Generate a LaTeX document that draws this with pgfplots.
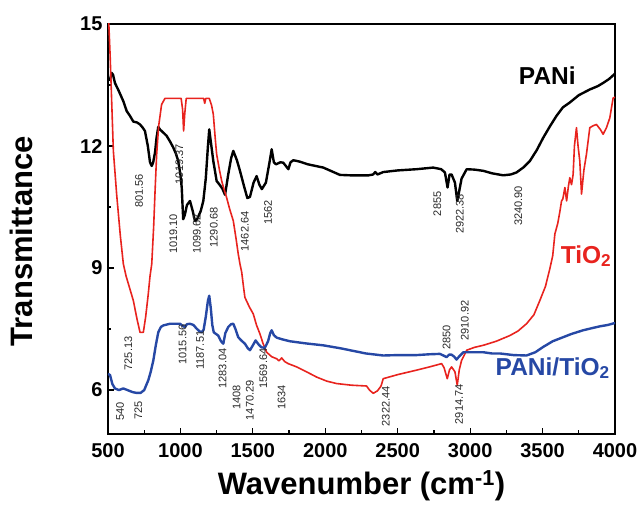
\documentclass[border=0pt]{standalone}
\usepackage{pgfplots}
\pgfplotsset{compat=1.18}
\usepackage{fontspec}
\setmainfont{Liberation Sans}
\definecolor{redc}{RGB}{232,35,30}
\definecolor{bluec}{RGB}{38,72,165}
\definecolor{annc}{RGB}{40,40,40}
\newcommand{\ann}[3]{\node[rotate=90,font=\fontsize{11}{11}\selectfont,text=annc,inner sep=0pt] at (axis cs:#1,#2) {#3};}
\begin{document}
\begin{tikzpicture}
\useasboundingbox (-108pt,-74pt) rectangle (532pt,434pt);
\begin{axis}[
  at={(0,0)}, anchor=south west,
  scale only axis, width=507pt, height=410pt,
  xmin=500, xmax=4000, ymin=4.92, ymax=15,
  xtick={500,1000,...,4000}, ytick={6,9,12,15},
  minor x tick num=1, minor y tick num=1,
  tick align=inside, tick pos=left,
  major tick length=6pt, minor tick length=3.5pt,
  every tick/.style={black, line width=1.2pt},
  axis line style={line width=1.6pt},
  /pgf/number format/assume math mode=true,
  /pgf/number format/1000 sep={},
  ticklabel style={font=\bfseries\fontsize{20}{20}\selectfont},
  xticklabel style={yshift=-6pt},
  yticklabel style={xshift=-2pt},
  xlabel={Wavenumber (cm\textsuperscript{-1})},
  ylabel={Transmittance},
  label style={font=\bfseries\fontsize{31}{31}\selectfont},
  xlabel style={at={(axis description cs:0.5,-0.127)}, anchor=center},
  ylabel style={at={(axis description cs:-0.17,0.47)}, anchor=center},
]
\addplot[black, line width=2.4pt, line join=round] coordinates {
(512,13.6)(525,13.8)(535,13.75)(548,13.55)(575,13.35)(606,13.1)(629,12.86)(650,12.75)(675,12.6)(700,12.58)(721,12.53)(740,12.45)(755,12.37)(775,12.0)(790,11.6)(802,11.51)(812,11.6)(825,11.85)(835,12.2)(847,12.47)(860,12.4)(870,12.37)(905,12.25)(930,12.1)(951,11.96)(970,11.8)(985,11.63)(1000,11.3)(1009,10.98)(1019,10.2)(1030,10.3)(1045,10.55)(1066,10.65)(1085,10.4)(1100,10.16)(1115,10.2)(1140,10.4)(1158,10.65)(1175,11.2)(1190,12.0)(1199,12.41)(1210,12.1)(1227,11.63)(1250,11.14)(1270,11.05)(1290,10.95)(1308,10.8)(1330,11.3)(1350,11.7)(1365,11.88)(1390,11.65)(1411,11.39)(1440,11.0)(1462,10.72)(1480,10.75)(1505,11.1)(1526,11.26)(1545,11.05)(1562,10.94)(1590,11.1)(1615,11.6)(1630,11.92)(1645,11.6)(1660,11.55)(1690,11.6)(1710,11.59)(1730,11.5)(1745,11.43)(1760,11.6)(1779,11.65)(1820,11.62)(1880,11.55)(1986,11.47)(2050,11.37)(2101,11.29)(2170,11.28)(2300,11.28)(2330,11.3)(2345,11.36)(2360,11.3)(2400,11.36)(2500,11.4)(2630,11.43)(2745,11.47)(2800,11.43)(2826,11.35)(2844,10.98)(2858,11.3)(2872,11.3)(2895,11.1)(2911,10.65)(2925,10.9)(2941,11.2)(2976,11.43)(3030,11.42)(3091,11.39)(3150,11.33)(3228,11.28)(3280,11.3)(3320,11.35)(3370,11.48)(3412,11.63)(3460,11.9)(3504,12.2)(3550,12.48)(3596,12.74)(3640,12.95)(3688,13.07)(3750,13.25)(3826,13.39)(3880,13.47)(3918,13.55)(3960,13.65)(4000,13.78)
};
\addplot[redc, line width=1.6pt, line join=round] coordinates {
(500,15.5)(515,14.2)(537,11.88)(560,10.8)(585,9.8)(606,9.1)(625,8.8)(650,8.5)(675,8.2)(700,7.75)(721,7.42)(744,7.42)(760,7.8)(778,8.36)(790,8.8)(802,9.1)(815,10.0)(825,10.9)(836,11.8)(850,12.5)(870,13.02)(893,13.17)(1005,13.17)(1015,12.9)(1022,12.37)(1030,12.8)(1040,13.17)(1160,13.17)(1168,13.05)(1175,13.17)(1199,13.17)(1215,13.0)(1227,12.78)(1240,12.2)(1250,11.8)(1270,11.4)(1285,11.14)(1300,10.95)(1319,10.73)(1340,10.45)(1365,10.16)(1385,9.7)(1399,9.35)(1411,9.1)(1423,8.9)(1435,8.55)(1445,8.28)(1475,8.05)(1503,7.87)(1525,7.6)(1549,7.38)(1570,7.15)(1595,6.93)(1630,6.82)(1664,6.77)(1680,6.72)(1699,6.79)(1720,6.7)(1744,6.65)(1802,6.57)(1870,6.45)(1940,6.32)(2010,6.22)(2078,6.16)(2180,6.12)(2285,6.1)(2305,6.0)(2331,5.92)(2360,5.98)(2385,6.1)(2400,6.28)(2500,6.38)(2630,6.49)(2720,6.57)(2803,6.65)(2820,6.55)(2842,6.28)(2858,6.5)(2872,6.57)(2895,6.45)(2911,6.12)(2925,6.5)(2941,6.73)(2976,6.98)(3030,7.05)(3090,7.1)(3180,7.2)(3274,7.34)(3330,7.45)(3389,7.63)(3440,7.85)(3481,8.2)(3520,8.55)(3550,8.98)(3570,9.3)(3585,9.84)(3605,10.1)(3620,10.4)(3631,10.65)(3640,10.7)(3654,10.98)(3666,10.65)(3678,11.0)(3688,11.22)(3700,11.05)(3711,11.3)(3720,12.0)(3734,12.45)(3745,12.0)(3757,11.63)(3769,10.82)(3785,11.4)(3803,11.8)(3826,12.45)(3850,12.5)(3872,12.53)(3900,12.4)(3918,12.29)(3941,12.45)(3964,12.69)(3987,13.18)(4000,13.2)
};
\addplot[bluec, line width=2.4pt, line join=round] coordinates {
(500,6.4)(514,6.37)(530,6.15)(548,6.04)(575,6.0)(606,6.04)(641,5.99)(670,5.95)(698,5.93)(725,5.93)(750,6.0)(778,6.24)(795,6.45)(813,6.73)(830,7.1)(847,7.42)(865,7.55)(882,7.59)(928,7.63)(997,7.63)(1015,7.58)(1031,7.55)(1045,7.62)(1066,7.63)(1090,7.6)(1112,7.51)(1130,7.45)(1146,7.42)(1160,7.48)(1175,7.8)(1190,8.2)(1199,8.32)(1210,8.0)(1220,7.6)(1230,7.42)(1261,7.34)(1280,7.2)(1296,7.14)(1310,7.4)(1330,7.55)(1350,7.62)(1365,7.63)(1380,7.5)(1399,7.3)(1420,7.22)(1445,7.14)(1465,7.03)(1480,6.98)(1500,7.1)(1519,7.22)(1540,7.12)(1560,7.05)(1583,7.04)(1605,7.2)(1620,7.4)(1630,7.47)(1645,7.35)(1664,7.29)(1700,7.25)(1756,7.2)(1860,7.15)(1986,7.1)(2100,7.03)(2170,6.98)(2280,6.9)(2400,6.85)(2500,6.86)(2630,6.86)(2720,6.88)(2791,6.89)(2815,6.85)(2837,6.81)(2855,6.87)(2872,6.87)(2890,6.82)(2906,6.75)(2925,6.83)(2953,6.93)(3020,6.93)(3090,6.93)(3150,6.9)(3205,6.9)(3300,6.86)(3389,6.85)(3450,6.93)(3504,7.06)(3570,7.2)(3642,7.3)(3700,7.38)(3780,7.47)(3850,7.53)(3900,7.57)(3950,7.6)(4000,7.65)
};
% annotations
\ann{714}{10.9}{801.56}
\ann{992}{11.55}{1019.37}
\ann{951}{9.84}{1019.10}
\ann{1114}{9.84}{1099.62}
\ann{1231}{10.0}{1290.68}
\ann{1445}{9.9}{1462.64}
\ann{1606}{10.36}{1562}
\ann{2773}{10.58}{2855}
\ann{2929}{10.33}{2922.38}
\ann{3332}{10.53}{3240.90}
\ann{640}{6.9}{725.13}
\ann{583}{5.48}{540}
\ann{709}{5.5}{725}
\ann{1015}{7.12}{1015.56}
\ann{1135}{6.98}{1187.51}
\ann{1291}{6.53}{1283.04}
\ann{1388}{5.82}{1408}
\ann{1480}{5.75}{1470.29}
\ann{1572}{6.53}{1569.64}
\ann{1699}{5.82}{1634}
\ann{2418}{5.6}{2322.44}
\ann{2837}{7.3}{2850}
\ann{2964}{7.71}{2910.92}
\ann{2924}{5.65}{2914.74}
% series labels
\node[anchor=base, font=\bfseries\fontsize{24.5}{24.5}\selectfont, text=black] at (axis cs:3533,13.52) {PANi};
\node[anchor=base, font=\bfseries\fontsize{24.5}{24.5}\selectfont, text=redc] at (axis cs:3800,9.12) {TiO\textsubscript{2}};
\node[anchor=base, font=\bfseries\fontsize{24.5}{24.5}\selectfont, text=bluec] at (axis cs:3570,6.37) {PANi/TiO\textsubscript{2}};
\end{axis}
\end{tikzpicture}
\end{document}
